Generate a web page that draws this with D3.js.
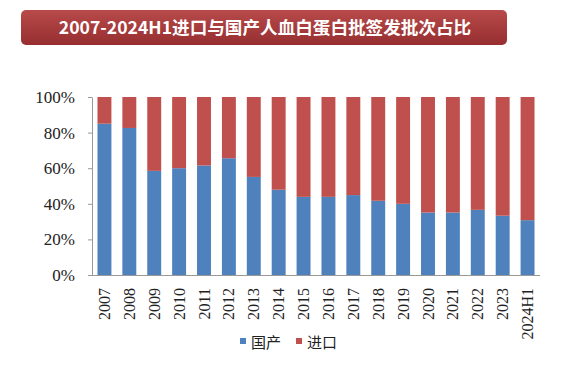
<!DOCTYPE html>
<html><head><meta charset="utf-8">
<script src="https://cdn.jsdelivr.net/npm/d3@7"></script>
<style>body{margin:0;background:#fff}</style>
</head><body><svg id="c" width="565" height="384"></svg>
<script>
const categories = ["2007","2008","2009","2010","2011","2012","2013","2014","2015","2016","2017","2018","2019","2020","2021","2022","2023","2024H1"];
const domestic = [85.0,82.6,58.5,60.0,61.5,65.6,55.1,47.9,43.9,43.9,44.9,41.7,40.0,35.1,35.1,36.6,33.3,30.8];
const imported = domestic.map(d => 100 - d);
const yTicks = [0,20,40,60,80,100];
const seriesNames = ["国产","进口"];
const colors = ["#4f81bd","#c0504d"];
const title = "2007-2024H1进口与国产人血白蛋白批签发批次占比";

(function(){
const svg = d3.select("#c");
const defs = svg.append("defs");
const g = defs.append("linearGradient").attr("id","tg").attr("x1",0).attr("y1",0).attr("x2",0).attr("y2",1);
g.append("stop").attr("offset","0%").attr("stop-color","#b84a4a");
g.append("stop").attr("offset","100%").attr("stop-color","#962e30");
svg.append("rect").attr("x",21).attr("y",10).attr("width",486).attr("height",35).attr("rx",5).attr("fill","url(#tg)");
svg.append("text").attr("x",265).attr("y",34).attr("text-anchor","middle")
  .attr("font-family","'Noto Sans CJK SC'").attr("font-weight","bold").attr("font-size",17.6)
  .attr("fill","#fff").text(title);

const pl=92, pr=540, pt=97, pb=275;
const x = d3.scaleBand().domain(categories).range([pl,pr]).paddingInner(0.44).paddingOuter(0.22);
const y = d3.scaleLinear().domain([0,100]).range([pb,pt]);

const rows = categories.map((c,i)=>({cat:c, 国产:domestic[i], 进口:imported[i]}));
const stack = d3.stack().keys(seriesNames)(rows);
svg.append("g").selectAll("g").data(stack).join("g").attr("fill",(d,i)=>colors[i])
  .selectAll("rect").data(d=>d).join("rect")
  .attr("x",d=>x(d.data.cat)).attr("width",x.bandwidth())
  .attr("y",d=>y(d[1])).attr("height",d=>y(d[0])-y(d[1]));

const ya = svg.append("g").attr("transform",`translate(${pl},0)`)
  .call(d3.axisLeft(y).tickValues(yTicks).tickFormat(d=>d+"%").tickSize(4).tickSizeOuter(0));
ya.select(".domain").attr("stroke","#999");
ya.selectAll(".tick line").attr("stroke","#999");
ya.selectAll("text").attr("font-family","'Liberation Serif'").attr("font-size",17).attr("fill","#222").attr("x",-17);

const xa = svg.append("g").attr("transform",`translate(0,${pb})`)
  .call(d3.axisBottom(x).tickSize(0).tickSizeOuter(0));
xa.select(".domain").attr("stroke","#999").attr("d",`M${pl},0.5H${pr}`);
xa.selectAll("text").attr("font-family","'Liberation Serif'").attr("font-size",16).attr("fill","#222")
  .attr("transform","rotate(-90)").attr("text-anchor","end").attr("x",-13).attr("y",0).attr("dy","0.35em");

const leg = svg.append("g");
const lx = [240, 296];
seriesNames.forEach((n,i)=>{
  leg.append("rect").attr("x",lx[i]).attr("y",338).attr("width",6).attr("height",6).attr("fill",colors[i]);
  leg.append("text").attr("x",lx[i]+11).attr("y",348).attr("font-family","'Noto Sans CJK SC'")
    .attr("font-size",15).attr("fill","#222").text(n);
});
})();
</script></body></html>
